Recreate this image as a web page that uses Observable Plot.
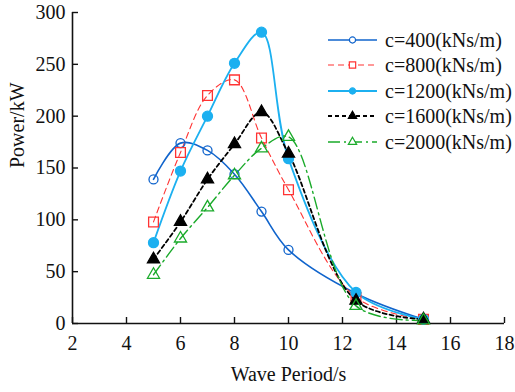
<!DOCTYPE html>
<html>
<head>
<meta charset="utf-8">
<script src="https://cdn.jsdelivr.net/npm/d3@7"></script>
<script src="https://cdn.jsdelivr.net/npm/@observablehq/plot@0.6"></script>
<style>
  html, body { margin: 0; padding: 0; background: #fff; }
  #wrap { position: relative; width: 515px; height: 392px; font-family: "Liberation Serif", "Times New Roman", serif; }
  #legend { position: absolute; left: 326px; top: 27px; width: 189px; }
  .row { display: flex; align-items: center; height: 25.5px; white-space: nowrap; }
  .row span { font-size: 20px; color: #111; margin-left: 7px; line-height: 1; white-space: nowrap; }
</style>
</head>
<body>
<div id="wrap"></div>
<script>
const periods = [5, 6, 7, 8, 9, 10, 12.5, 15];
const seriesNames = ["c=400(kNs/m)", "c=800(kNs/m)", "c=1200(kNs/m)", "c=1600(kNs/m)", "c=2000(kNs/m)"];
const p400  = [139, 174, 167, 144, 108, 71, 29, 4];
const p800  = [98, 165, 220, 235, 179, 129, 25, 4];
const p1200 = [78, 147, 200, 251, 281, 159, 30, 4];
const p1600 = [62, 98, 139, 173, 204, 164, 22, 4];
const p2000 = [47, 82, 112, 143, 169, 180, 17, 3];
const xTicks = [2, 4, 6, 8, 10, 12, 14, 16, 18];
const yTicks = [0, 50, 100, 150, 200, 250, 300];

const styles = [
  {color: "#1064cc", dash: null, width: 1.6, symbol: "circle", fill: "none", r: 4.5},
  {color: "#ff3333", dash: "6,4", width: 1.1, symbol: "square", fill: "none", r: 5.5},
  {color: "#1cb0f0", dash: null, width: 1.8, symbol: "circle", fill: "#1cb0f0", r: 5},
  {color: "#000000", dash: "4,3", width: 1.8, symbol: "triangle", fill: "#000000", r: 4.5},
  {color: "#1aaa2a", dash: "12,4,2,4", width: 1.4, symbol: "triangle", fill: "none", r: 4.5}
];
const values = [p400, p800, p1200, p1600, p2000];
const rows = seriesNames.map((name, i) => periods.map((t, j) => ({name, t, p: values[i][j]})));

const marks = [];
rows.forEach((data, i) => {
  const s = styles[i];
  marks.push(Plot.line(data, {x: "t", y: "p", curve: "catmull-rom", stroke: s.color, strokeWidth: s.width, strokeDasharray: s.dash}));
});
rows.forEach((data, i) => {
  const s = styles[i];
  marks.push(Plot.dot(data, {x: "t", y: "p", symbol: () => s.symbol, r: s.r, stroke: s.color, fill: s.fill, strokeWidth: 1.3}));
});

const chart = Plot.plot({
  width: 515,
  height: 392,
  marginLeft: 72,
  marginRight: 11,
  marginTop: 12,
  marginBottom: 69,
  style: {fontFamily: "'Liberation Serif', 'Times New Roman', serif", fontSize: "20px", color: "#111", background: "#fff"},
  x: {domain: [2, 18]},
  y: {domain: [0, 300]},
  symbol: {type: "identity"},
  marks: [
    Plot.ruleY([0], {stroke: "#111", strokeWidth: 1.6}),
    Plot.ruleX([2], {stroke: "#111", strokeWidth: 1.6}),
    Plot.axisX(xTicks, {tickSize: -6, tickPadding: 18, fontSize: 20, stroke: "#111", strokeWidth: 1.4, label: null}),
    Plot.axisY(yTicks, {tickSize: -6, tickPadding: 13, fontSize: 20, stroke: "#111", strokeWidth: 1.4, label: null}),
    Plot.text(["Wave Period/s"], {frameAnchor: "bottom", dy: 57, fontSize: 20, fill: "#111"}),
    Plot.text(["Power/kW"], {frameAnchor: "left", dx: -55, rotate: -90, fontSize: 20, fill: "#111"}),
    ...marks
  ]
});
const wrap = document.getElementById("wrap");
wrap.appendChild(chart);

// legend
const legend = document.createElement("div");
legend.id = "legend";
seriesNames.forEach((name, i) => {
  const s = styles[i];
  const row = document.createElement("div");
  row.className = "row";
  const svg = d3.create("svg").attr("width", 52).attr("height", 14).style("flex", "none");
  svg.append("line").attr("x1", 2).attr("x2", 51).attr("y1", 7).attr("y2", 7)
    .attr("stroke", s.color).attr("stroke-width", s.width).attr("stroke-dasharray", s.dash);
  const symType = s.symbol === "circle" ? d3.symbolCircle : s.symbol === "square" ? d3.symbolSquare : d3.symbolTriangle;
  svg.append("path").attr("transform", "translate(26.5,7)")
    .attr("d", d3.symbol(symType, s.symbol === "square" ? 40 : 30)())
    .attr("fill", s.fill === "none" ? "#fff" : s.fill).attr("stroke", s.color).attr("stroke-width", 1.2);
  row.appendChild(svg.node());
  const sp = document.createElement("span");
  sp.textContent = name;
  row.appendChild(sp);
  legend.appendChild(row);
});
wrap.appendChild(legend);
</script>
</body>
</html>
